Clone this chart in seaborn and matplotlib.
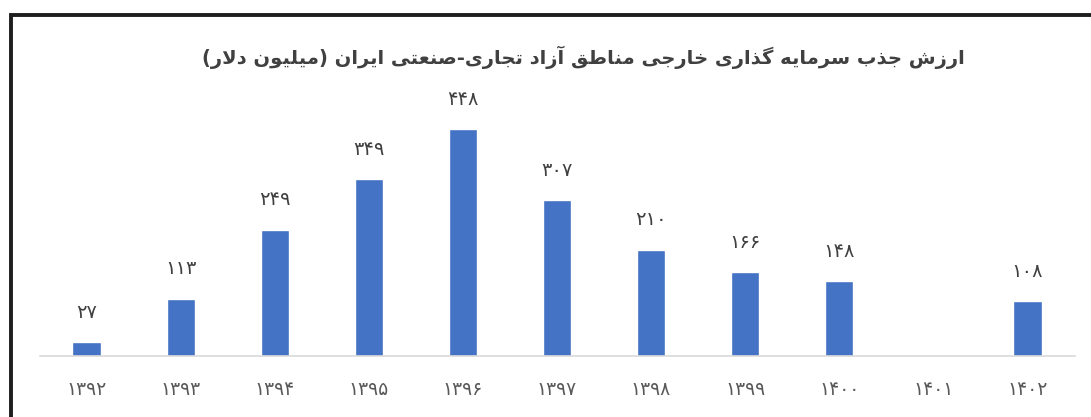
import numpy as np
import pandas as pd
import matplotlib
matplotlib.use("Agg")
import matplotlib.pyplot as plt
from matplotlib.patches import Rectangle
import seaborn as sns

# ---------------- data ----------------
title_text = "ارزش جذب سرمایه گذاری خارجی مناطق آزاد تجاری-صنعتی ایران (میلیون دلار)"
years = ["1392", "1393", "1394", "1395", "1396", "1397", "1398", "1399", "1400", "1401", "1402"]
values = [27, 113, 249, 349, 448, 307, 210, 166, 148, None, 108]

# ---------------- Persian text helpers ----------------
FA_DIGITS = str.maketrans("0123456789", "۰۱۲۳۴۵۶۷۸۹")

DUAL = {  # isolated, final, initial, medial
    'ب': (0xFE8F, 0xFE90, 0xFE91, 0xFE92), 'پ': (0xFB56, 0xFB57, 0xFB58, 0xFB59),
    'ت': (0xFE95, 0xFE96, 0xFE97, 0xFE98), 'ث': (0xFE99, 0xFE9A, 0xFE9B, 0xFE9C),
    'ج': (0xFE9D, 0xFE9E, 0xFE9F, 0xFEA0), 'چ': (0xFB7A, 0xFB7B, 0xFB7C, 0xFB7D),
    'ح': (0xFEA1, 0xFEA2, 0xFEA3, 0xFEA4), 'خ': (0xFEA5, 0xFEA6, 0xFEA7, 0xFEA8),
    'س': (0xFEB1, 0xFEB2, 0xFEB3, 0xFEB4), 'ش': (0xFEB5, 0xFEB6, 0xFEB7, 0xFEB8),
    'ص': (0xFEB9, 0xFEBA, 0xFEBB, 0xFEBC), 'ض': (0xFEBD, 0xFEBE, 0xFEBF, 0xFEC0),
    'ط': (0xFEC1, 0xFEC2, 0xFEC3, 0xFEC4), 'ظ': (0xFEC5, 0xFEC6, 0xFEC7, 0xFEC8),
    'ع': (0xFEC9, 0xFECA, 0xFECB, 0xFECC), 'غ': (0xFECD, 0xFECE, 0xFECF, 0xFED0),
    'ف': (0xFED1, 0xFED2, 0xFED3, 0xFED4), 'ق': (0xFED5, 0xFED6, 0xFED7, 0xFED8),
    'ک': (0xFB8E, 0xFB8F, 0xFB90, 0xFB91), 'گ': (0xFB92, 0xFB93, 0xFB94, 0xFB95),
    'ل': (0xFEDD, 0xFEDE, 0xFEDF, 0xFEE0), 'م': (0xFEE1, 0xFEE2, 0xFEE3, 0xFEE4),
    'ن': (0xFEE5, 0xFEE6, 0xFEE7, 0xFEE8), 'ه': (0xFEE9, 0xFEEA, 0xFEEB, 0xFEEC),
    'ی': (0xFBFC, 0xFBFD, 0xFBFE, 0xFBFF),
}
RIGHT = {  # isolated, final
    'ا': (0xFE8D, 0xFE8E), 'آ': (0xFE81, 0xFE82), 'د': (0xFEA9, 0xFEAA),
    'ذ': (0xFEAB, 0xFEAC), 'ر': (0xFEAD, 0xFEAE), 'ز': (0xFEAF, 0xFEB0),
    'ژ': (0xFB8A, 0xFB8B), 'و': (0xFEED, 0xFEEE),
}
LAM_ALEF = {'ا': (0xFEFB, 0xFEFC), 'آ': (0xFEF5, 0xFEF6)}


def persian_visual(text):
    text = text.replace('\u064a', 'ی').replace('\u0643', 'ک')
    chars = list(text)
    n = len(chars)
    out = []
    i = 0
    joinable = lambda c: c in DUAL or c in RIGHT
    while i < n:
        c = chars[i]
        if not joinable(c):
            out.append(c)
            i += 1
            continue
        prev = chars[i - 1] if i > 0 else None
        con_prev = prev is not None and prev in DUAL
        if c == 'ل' and i + 1 < n and chars[i + 1] in LAM_ALEF:
            lig = LAM_ALEF[chars[i + 1]]
            out.append(chr(lig[1] if con_prev else lig[0]))
            i += 2
            continue
        nxt = chars[i + 1] if i + 1 < n else None
        con_next = c in DUAL and nxt is not None and joinable(nxt)
        forms = DUAL.get(c) or RIGHT.get(c)
        if con_prev and con_next:
            f = forms[3]
        elif con_prev:
            f = forms[1]
        elif con_next:
            f = forms[2]
        else:
            f = forms[0]
        out.append(chr(f))
        i += 1
    mirror = {'(': ')', ')': '('}
    return ''.join(mirror.get(ch, ch) for ch in reversed(out))


# ---------------- plot ----------------
sns.set_theme(style="white")
plt.rcParams['font.family'] = ['DejaVu Sans']

W, H = 1091, 417
fig = plt.figure(figsize=(W / 100, H / 100), dpi=100)
fig.patch.set_facecolor("white")

ymax = 500
px_per_unit = 227 / 448
ax = fig.add_axes([39.5 / W, 61 / H, (1074.5 - 39.5) / W, ymax * px_per_unit / H])

df = pd.DataFrame({"year": years, "value": pd.array(values, dtype="float")})
sns.barplot(data=df, x="year", y="value", order=years, color="#4472C4",
            saturation=1, width=0.30, errorbar=None, ax=ax)

ax.set_ylim(0, ymax)
ax.set_xlim(-0.5, len(years) - 0.5)
ax.set_xlabel("")
ax.set_ylabel("")
ax.set_yticks([])
ax.set_xticks(range(len(years)))
ax.set_xticklabels([y.translate(FA_DIGITS) for y in years], fontsize=13.5, color="#595959")
ax.tick_params(axis="x", length=0, pad=17)
for s in ["top", "right", "left"]:
    ax.spines[s].set_visible(False)
ax.spines["bottom"].set_color("#D9D9D9")
ax.spines["bottom"].set_linewidth(1.2)
ax.set_facecolor("white")

for i, v in enumerate(values):
    if v is None:
        continue
    ax.annotate(str(v).translate(FA_DIGITS), xy=(i, v), xytext=(0, 21.5),
                textcoords="offset points", ha="center", va="center",
                fontsize=14, color="#404040")

fig.text(583 / W, 1 - 57 / H, persian_visual(title_text), ha="center", va="center",
         fontsize=14, fontweight="bold", color="#404040")

# outer frame (top and left edges visible)
fig.add_artist(Rectangle((11 / W, -0.1), 1.2, 0.1 + (H - 15) / H, transform=fig.transFigure,
                         fill=False, edgecolor="#1e1e1e", linewidth=2.8, clip_on=False))

fig.savefig("out.png", dpi=100, facecolor="white")
